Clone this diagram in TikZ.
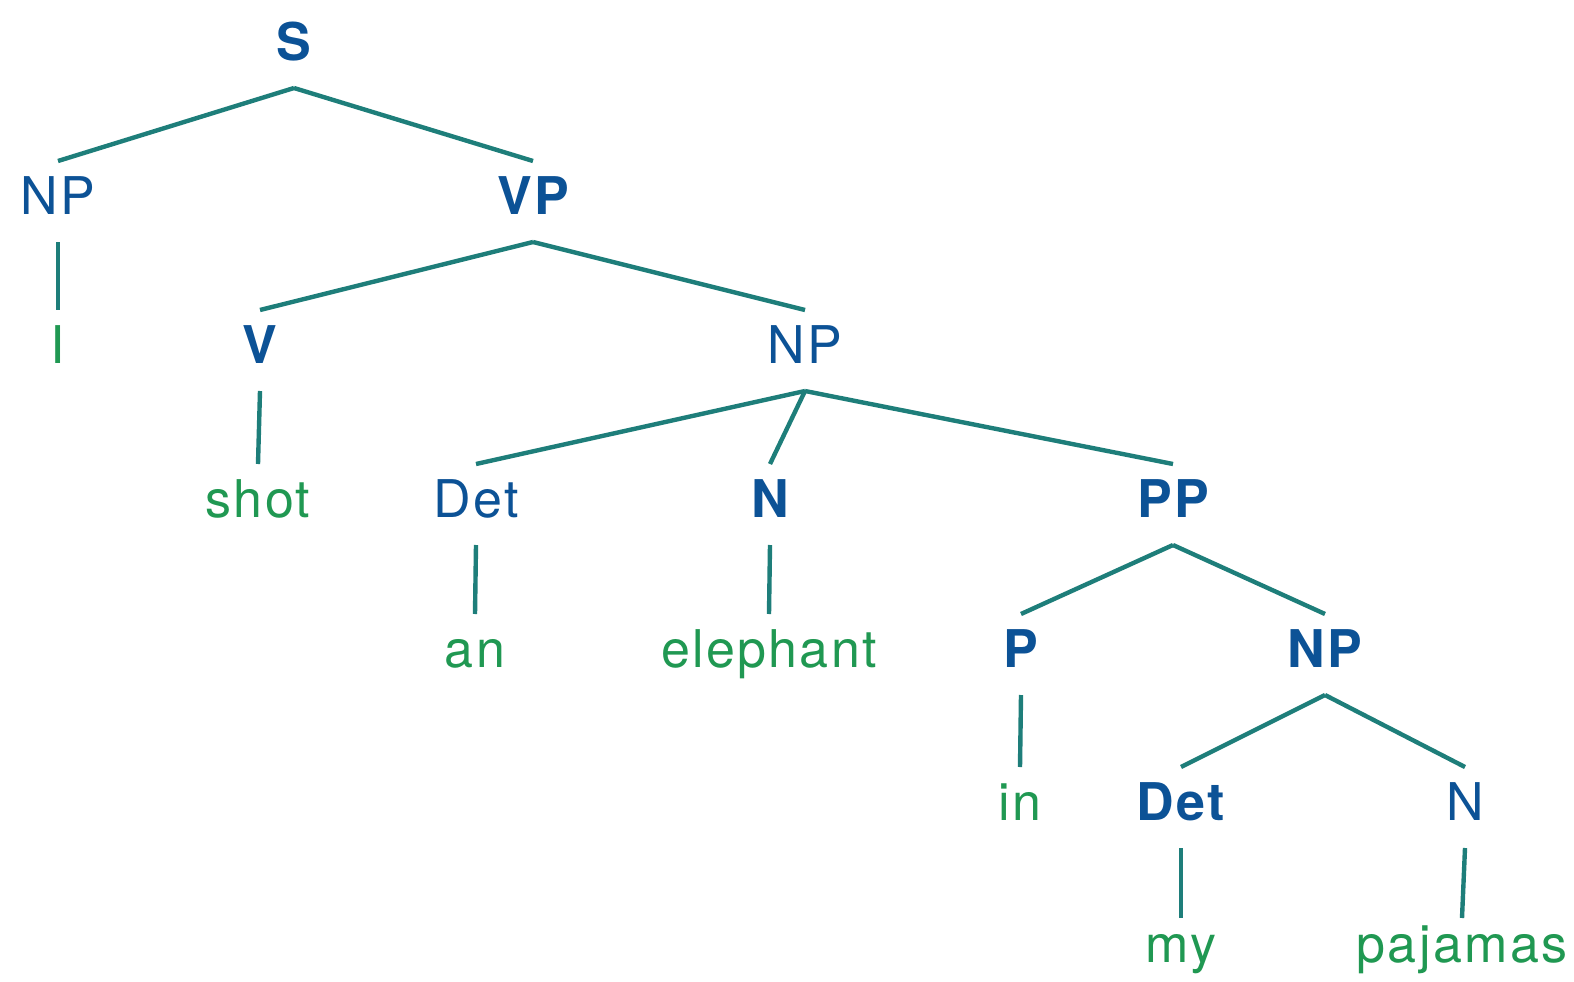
\documentclass[tikz,border=0pt]{standalone}
\usepackage{fontspec}
\setmainfont{TeX Gyre Heros}[LetterSpace=4.5]
\usetikzlibrary{calc}
\definecolor{catblue}{RGB}{12,82,150}
\definecolor{wordgreen}{RGB}{32,152,82}
\definecolor{linecol}{RGB}{30,126,122}
\tikzset{
  cat/.style={anchor=base, text=catblue, inner sep=0pt, font=\fontsize{52}{60}\selectfont},
  bcat/.style={cat, font=\fontsize{52}{60}\selectfont\bfseries},
  word/.style={anchor=base, text=wordgreen, inner sep=0pt, font=\fontsize{52}{60}\selectfont},
  edge/.style={draw=linecol, line width=4.4pt}
}
\newcommand\tedge[3][-53]{\draw[edge] ($(#2.base)+(0,28)$) -- ($(#3.base)+(0,#1)$);}
\begin{document}
\begin{tikzpicture}[x=1pt,y=-1pt]
\useasboundingbox (0,0) rectangle (1574,982);
\node[bcat] (S) at (294,60) {S};
\node[cat] (NPa) at (58,214) {NP};
\node[bcat] (VP) at (533,214) {VP};
\node[word] (I) at (58,363) {I};
\node[bcat] (V) at (260,363) {V};
\node[cat] (NPb) at (805,363) {NP};
\node[word] (shot) at (258,517) {shot};
\node[cat] (Deta) at (476,517) {Det};
\node[bcat] (Na) at (770,517) {N};
\node[bcat] (PP) at (1173,517) {PP};
\node[word] (an) at (475,667) {an};
\node[word] (elephant) at (769,667) {elephant};
\node[bcat] (P) at (1021,667) {P};
\node[bcat] (NPc) at (1325,667) {NP};
\node[word] (in) at (1020,820) {in};
\node[bcat] (Detb) at (1181,820) {Det};
\node[cat] (Nb) at (1465,820) {N};
\node[word] (my) at (1181,962) {my};
\node[word] (pajamas) at (1462,962) {pajamas};
\tedge{S}{NPa}
\tedge{S}{VP}
\tedge{NPa}{I}
\tedge{VP}{V}
\tedge{VP}{NPb}
\tedge{V}{shot}
\tedge{NPb}{Deta}
\tedge{NPb}{Na}
\tedge{NPb}{PP}
\tedge{Deta}{an}
\tedge{Na}{elephant}
\tedge{PP}{P}
\tedge{PP}{NPc}
\tedge{P}{in}
\tedge{NPc}{Detb}
\tedge{NPc}{Nb}
\tedge[-44]{Detb}{my}
\tedge[-44]{Nb}{pajamas}
\end{tikzpicture}
\end{document}
